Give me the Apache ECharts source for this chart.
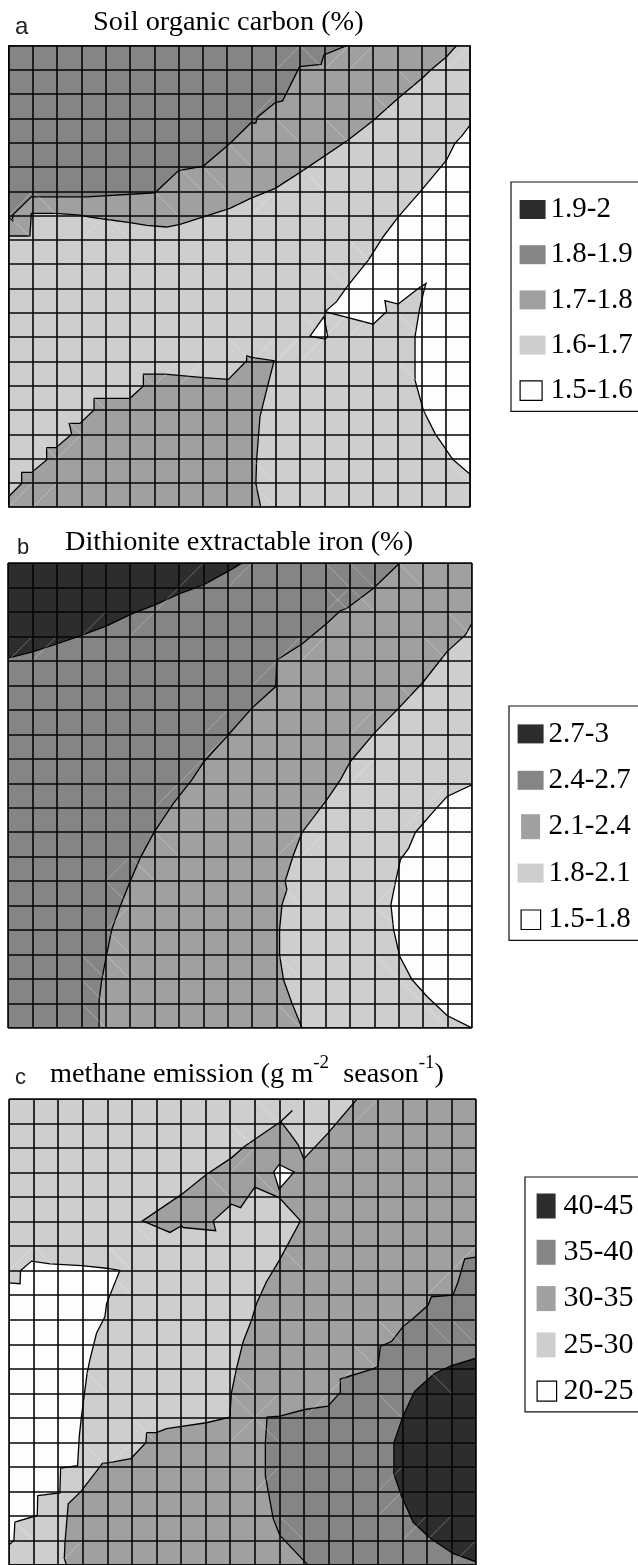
<!DOCTYPE html>
<html><head><meta charset="utf-8">
<style>html,body{margin:0;padding:0;background:#fff;overflow:hidden}#c{width:638px;height:1565px}</style>
<script src="https://cdn.jsdelivr.net/npm/echarts@6/dist/echarts.min.js"></script>
</head><body><div id="c"></div>
<script>
// ---- Colours by class (dark to pale)
const shades = ['#2d2d2d', '#858585', '#a0a0a0', '#cecece', '#fdfdfd'];

// ---- Panel a: soil organic carbon (%)  boundaries in grid-cell units
const soilLabels = ['1.9-2', '1.8-1.9', '1.7-1.8', '1.6-1.7', '1.5-1.6'];
const soilBase = [[0,0],[19,0],[19,19],[0,19]];
const soilMid = [[0,0],[18.44,0],[18.03,.46],[17.41,.98],[17.07,1.31],[16.04,2.17],[15.01,3.09],[13.98,3.89],[12.11,5.15],[10.98,5.88],[9.94,6.3],[9.11,6.7],[8.02,7.05],[7.06,7.36],[6.51,7.47],[5.69,7.4],[5,7.29],[3.98,7.15],[3.35,7.06],[2.94,6.98],[1.95,6.91],[.94,6.91],[.88,7.84],[0,7.84]];
const soilMidLow = [[0,18.57],[.54,18.02],[.54,17.57],[.95,17.57],[1.57,17.06],[1.57,16.55],[1.95,16.55],[2.6,16],[2.5,15.55],[2.94,15.55],[3.52,15],[3.52,14.52],[5,14.52],[5.55,14.01],[5.55,13.52],[6.44,13.52],[8.02,13.67],[9.05,13.74],[9.8,12.97],[9.8,12.77],[10.01,12.83],[10.93,12.97],[10.62,14.18],[10.35,15.27],[10.21,17.06],[10.18,18.02],[10.38,19],[0,19]];
const soilHigh = [[0,0],[13.92,0],[12.98,.39],[12.86,.78],[11.98,.87],[11.28,2.28],[10.98,2.35],[10.23,2.96],[10.18,3.19],[9.97,3.19],[9.09,4.05],[8.02,4.96],[7,5.15],[6.03,6.06],[3.22,6.23],[.94,6.23],[.17,6.98],[.17,7.21],[0,7.04]];
const soilLow = [[19,3.27],[18.65,3.73],[18.37,4.03],[18.03,4.71],[17,5.95],[16.04,7.05],[15.42,7.87],[14.81,8.83],[13.95,9.9],[13.5,10.54],[13.03,10.95],[15.01,11.47],[15.56,10.95],[15.49,10.5],[16.04,10.64],[16.93,9.95],[17.18,9.79],[17.07,10.2],[16.91,10.88],[16.73,11.98],[16.73,13.77],[17.07,15],[17.55,15.96],[18.28,17.03],[19,17.65]];
const soilLowIsle = [[12.98,11.16],[12.41,11.96],[13.03,12.08],[13.14,11.98]];
const soilDiag = [[11,1,12,0],[12,0,13,1],[13,1,14,0],[14,1,15,0],[0,7,1,6],[1,6,2,7],[0,7,1,8],[3,8,4,7],[4,7,5,8],[6,6,7,7],[7,5,8,6],[8,5,9,6],[9,4,10,5],[10,3,11,2],[11,3,12,4],[12,5,13,6],[13,3,14,4],[15,2,16,3],[10,7,11,6],[14,8,15,9],[16,1,17,2],[18,1,19,0],[13,9,14,10],[12,11,13,12],[13,12,14,11],[14,12,15,11],[16,11,17,12],[9,12,10,13],[10,13,11,12],[11,13,12,12],[12,13,13,12],[5,13,6,14],[6,14,7,13],[7,14,8,13],[2,15,3,16],[3,14,4,15],[1,16,2,17],[2,17,3,16],[0,19,1,18],[1,19,2,18],[10,17,11,18],[10,18,11,19],[16,13,17,14],[17,15,18,16],[18,17,19,18]];

// ---- Panel b: dithionite extractable iron (%)
const ironLabels = ['2.7-3', '2.4-2.7', '2.1-2.4', '1.8-2.1', '1.5-1.8'];
const ironBase = [[0,0],[19,0],[19,19],[0,19]];
const ironMid = [[0,0],[19,0],[19,2.46],[18.73,2.94],[17.98,3.62],[17.5,4.23],[17.02,4.84],[16,5.93],[15,6.95],[14.02,8.11],[13.61,8.86],[13.06,9.67],[12.04,11.01],[11.69,11.92],[11.35,13],[11.42,13.35],[11.22,13.96],[11.12,14.98],[11.12,16],[11.28,17.02],[11.62,17.97],[12.04,19],[0,19]];
const ironHigh = [[0,0],[16.04,0],[14.97,1.03],[13.88,1.85],[13.61,1.95],[13.06,2.46],[12.04,3.31],[11.01,3.96],[10.96,5.05],[9.99,5.93],[8.96,7.09],[8.03,8.11],[7.53,8.86],[6.78,9.81],[5.98,11.01],[5.41,12.06],[5,13.01],[4.62,13.96],[4.25,14.98],[4.04,16],[3.84,17.02],[3.73,17.9],[3.73,19],[0,19]];
const ironTop = [[0,0],[9.58,0],[9.1,.29],[8,.9],[6.98,1.27],[6.02,1.71],[5.07,2.08],[4.04,2.57],[2.95,2.98],[1.99,3.31],[1.04,3.62],[0,3.89]];
const ironLow = [[19,9.06],[17.98,9.54],[17.43,10.15],[16.68,11.01],[16.41,11.65],[16.07,12.12],[15.86,13.07],[15.68,13.96],[15.79,14.98],[16.04,16.07],[16.54,17.02],[17.16,17.71],[17.98,18.49],[19,19]];
const ironDiag = [[0,4,1,3],[1,4,2,3],[3,3,4,2],[5,3,6,2],[6,2,7,1],[7,1,8,0],[9,1,10,0],[13,0,14,1],[14,0,15,1],[13,1,14,2],[14,1,15,2],[16,0,17,1],[18,2,19,3],[17,3,18,4],[16,5,17,6],[14,7,15,6],[14,9,15,8],[11,4,12,3],[10,5,11,4],[12,4,13,3],[13,2,14,1],[8,7,9,6],[8,8,9,7],[7,9,8,8],[6,10,7,9],[6,11,7,12],[4,13,5,12],[5,12,6,13],[4,13,5,14],[4,15,5,14],[4,15,5,16],[3,16,4,17],[4,16,5,17],[3,17,4,18],[3,18,4,19],[11,12,12,11],[12,12,13,11],[11,13,12,14],[11,16,12,17],[11,18,12,19],[15,14,16,13],[15,14,16,15],[15,16,16,17],[16,17,17,18],[17,18,18,19],[17,10,18,9],[16,11,17,10]];

// ---- Panel c: methane emission (g m-2 season-1)
const methLabels = ['40-45', '35-40', '30-35', '25-30', '20-25'];
const methBase = [[0,0],[19,0],[19,19],[0,19]];
const methMid = [[14.16,0],[12.98,1.39],[11.99,2.44],[11.76,1.86],[11.42,1.39],[11.06,.92],[11.53,.47],[11.06,.92],[9.59,1.93],[9.05,2.4],[8.03,3.08],[7.02,3.89],[5.43,4.97],[6.55,5.44],[7.02,5.17],[7.09,5.24],[8.41,5.37],[8.31,4.97],[9.05,4.29],[9.42,4.43],[10,3.59],[10.99,4.02],[11.86,4.97],[10.99,6.59],[10.47,7.46],[10.07,8.34],[9.87,9.01],[9.53,9.89],[9.26,10.97],[9.05,11.98],[8.98,12.97],[8.03,13.2],[6.41,13.44],[6,13.6],[5.6,13.6],[5.57,14.01],[4.96,14.66],[3.97,14.85],[3.81,14.85],[2.93,16],[2.41,16.5],[2.28,18.06],[2.25,18.73],[2.34,19],[19,19],[19,0]];
const methLow = [[0,7.5],[.45,7.53],[.47,6.99],[.92,6.61],[1.67,6.72],[2.95,6.79],[3.97,6.9],[4.51,6.99],[3.97,8.34],[3.9,8.88],[3.56,9.55],[3.29,10.64],[3.18,11.17],[2.95,12.93],[2.86,13.74],[2.79,14.95],[2.1,15.05],[2.07,16.06],[1.17,16.17],[1.15,16.98],[.24,17.25],[.2,17.99],[0,18.19]];
const methLowIsle = [[10.99,2.67],[11.6,2.97],[10.99,3.68],[10.77,2.97]];
const methHigh = [[19,6.45],[18.54,6.52],[18.27,7.46],[18.06,8],[17.18,8.07],[17.05,8.41],[16.44,8.95],[16.03,9.28],[15.56,9.89],[15.11,10.09],[15.01,10.9],[14.84,10.99],[13.48,11.42],[13.48,11.96],[12.98,12.52],[12.03,12.66],[11.02,12.93],[10.5,12.97],[10.43,14.01],[10.43,15.36],[10.75,17.11],[11.02,17.79],[11.97,18.8],[12.17,19],[19,19]];
const methTop = [[19,10.57],[17.98,10.88],[17.3,11.2],[16.5,11.92],[16.03,12.93],[15.66,14.01],[15.66,15.29],[15.96,16.17],[16.44,17.25],[17.11,17.89],[18.06,18.53],[19,18.87],[19,19]];
const methDiag = [[10,0,11,1],[14,1,15,0],[9,1,10,2],[8,3,9,4],[10,3,11,4],[9,3,10,2],[0,7,1,6],[1,6,2,7],[4,6,5,7],[4,7,5,8],[5,5,6,6],[11,6,12,7],[18,7,19,6],[17,8,18,7],[17,9,18,10],[18,9,19,10],[15,9,16,10],[14,10,15,11],[13,12,14,11],[3,11,4,12],[9,11,10,12],[9,12,10,13],[10,13,11,12],[12,13,13,12],[15,12,16,13],[17,11,18,12],[5,13,6,14],[9,14,10,13],[10,13,11,14],[4,15,5,14],[3,14,4,15],[10,16,11,15],[15,16,16,15],[15,17,16,16],[16,18,17,17],[17,18,18,17],[11,17,12,18],[0,17,1,18],[2,19,3,18],[18,19,19,18]];

// ---- Legend swatch shapes (box-filling marker points keep the swatch at its own size inside the row)
const wide = 'path://M0 0L0 0M26 25L26 25M0 3H26V22H0Z';
const narrowB = 'path://M0 0L0 0M26 25L26 25M3.5 0H22.5V25H3.5Z';
const hollowA = 'path://M0 0L0 0M26 25L26 25M.5 3H22.5V22.5H.5Z';
const hollowB = 'path://M0 0L0 0M26 25L26 25M3.5 3H23V22.5H3.5Z';
const tall = 'path://M0 0L0 0M22 25L22 25M0 0H19V25H0Z';
const hollowC = 'path://M0 0L0 0M22 25L22 25M.5 2.5H20V22.5H.5Z';

const chart = echarts.init(document.getElementById('c'), null, {renderer:'canvas', width:638, height:1565});

const series = [];
function band(name, color, polys, idx, z){
  series.push({
    type:'custom', name, xAxisIndex:idx, yAxisIndex:idx, z, silent:true, clip:true,
    itemStyle:{color}, encode:{x:0,y:1},
    data: polys.flat(),
    renderItem(params, api){
      if(params.dataIndex !== 0) return;
      return {type:'group', children: polys.map(p => ({
        type:'polygon', shape:{points:p.map(q => api.coord(q))},
        style:{fill:color, stroke:'#000', lineWidth:1.3}
      }))};
    }
  });
}
function diag(segs, idx, z){
  series.push({
    type:'custom', name:'facets'+idx, xAxisIndex:idx, yAxisIndex:idx, z, silent:true,
    encode:{x:[0,2],y:[1,3]}, data:segs,
    renderItem(params, api){
      const a = api.coord([api.value(0),api.value(1)]), b = api.coord([api.value(2),api.value(3)]);
      return {type:'line', shape:{x1:a[0],y1:a[1],x2:b[0],y2:b[1]}, style:{stroke:'rgba(255,255,255,.38)', lineWidth:.8}};
    }
  });
}
band(soilLabels[3], shades[3], [soilBase], 0, 2);
band(soilLabels[2], shades[2], [soilMid, soilMidLow], 0, 3);
band(soilLabels[1], shades[1], [soilHigh], 0, 4);
band(soilLabels[4], shades[4], [soilLow, soilLowIsle], 0, 5);
band(soilLabels[0], shades[0], [], 0, 5);
diag(soilDiag, 0, 6);

band(ironLabels[3], shades[3], [ironBase], 1, 2);
band(ironLabels[2], shades[2], [ironMid], 1, 3);
band(ironLabels[1], shades[1], [ironHigh], 1, 4);
band(ironLabels[0], shades[0], [ironTop], 1, 5);
band(ironLabels[4], shades[4], [ironLow], 1, 5);
diag(ironDiag, 1, 6);

band(methLabels[3], shades[3], [methBase], 2, 2);
band(methLabels[2], shades[2], [methMid], 2, 3);
band(methLabels[4], shades[4], [methLow, methLowIsle], 2, 4);
band(methLabels[1], shades[1], [methHigh], 2, 5);
band(methLabels[0], shades[0], [methTop], 2, 6);
diag(methDiag, 2, 7);

const grids = [
  {left:8.5, top:45.5, width:461.7, height:461.7},
  {left:8, top:563, width:464, height:465},
  {left:9, top:1099, width:467, height:469}
];
const gridLine = {show:true, interval:0, lineStyle:{color:'#050505', width:1.6}};
const mkAxis = (i, inverse) => ({
  type:'value', gridIndex:i, min:0, max:19, interval:1, inverse, z:20,
  axisLabel:{show:false}, axisTick:{show:false}, axisLine:{show:false}, splitLine:gridLine
});

function legendOf(labels, left, top, padding, itemWidth, gap, icons, fontSize){
  return {
    left, top, orient:'vertical', align:'left', selectedMode:false, padding,
    itemWidth, itemHeight:25, itemGap:gap, borderColor:'#111', borderWidth:1.2, backgroundColor:'#fff',
    textStyle:{fontFamily:'Liberation Serif', fontSize, color:'#000'},
    data: labels.map((name,i) => ({
      name, icon:icons[i],
      itemStyle: i===4 ? {color:shades[4], borderColor:'#000', borderWidth:1.2} : {color:shades[i], borderWidth:0}
    }))
  };
}
const serif = {fontFamily:'Liberation Serif', fontSize:28.3, fontWeight:'normal', color:'#000'};
const letter = {fontFamily:'Liberation Sans', fontWeight:'normal', color:'#222'};
chart.setOption({
  animation:false, backgroundColor:'#fff',
  title:[
    {text:'a', left:15, top:15, padding:0, textStyle:{...letter, fontSize:24}},
    {text:'Soil organic carbon (%)', left:93, top:9, padding:0, textStyle:serif},
    {text:'b', left:17, top:537, padding:0, textStyle:{...letter, fontSize:22}},
    {text:'Dithionite extractable iron (%)', left:65, top:529, padding:0, textStyle:serif},
    {text:'c', left:15, top:1067, padding:0, textStyle:{...letter, fontSize:22}},
    {text:'{m|methane emission (g m}{sup|-2}{m|  season}{sup|-1}{m|)}', left:50, top:1054, padding:0,
     textStyle:{...serif, rich:{
       m:{fontFamily:'Liberation Serif', fontSize:28.3, color:'#000', lineHeight:42, verticalAlign:'middle'},
       sup:{fontFamily:'Liberation Serif', fontSize:19, color:'#000', lineHeight:20, verticalAlign:'top'}
     }}}
  ],
  legend:[
    legendOf(soilLabels, 511, 182, [13,8,6.5,8], 26, 16.2, [wide,wide,wide,wide,hollowA], 29),
    legendOf(ironLabels, 509, 706, [13.4,8,6.4,8], 26, 17.4, [wide,wide,narrowB,wide,hollowB], 29),
    legendOf(methLabels, 525, 1177, [14,8,5.75,11], 22, 16.3, [tall,tall,tall,tall,hollowC], 30)
  ],
  grid: grids.map(g => ({...g, containLabel:false, show:false})),
  xAxis: [0,1,2].map(i => mkAxis(i,false)),
  yAxis: [0,1,2].map(i => mkAxis(i,true)),
  series
});
</script></body></html>
